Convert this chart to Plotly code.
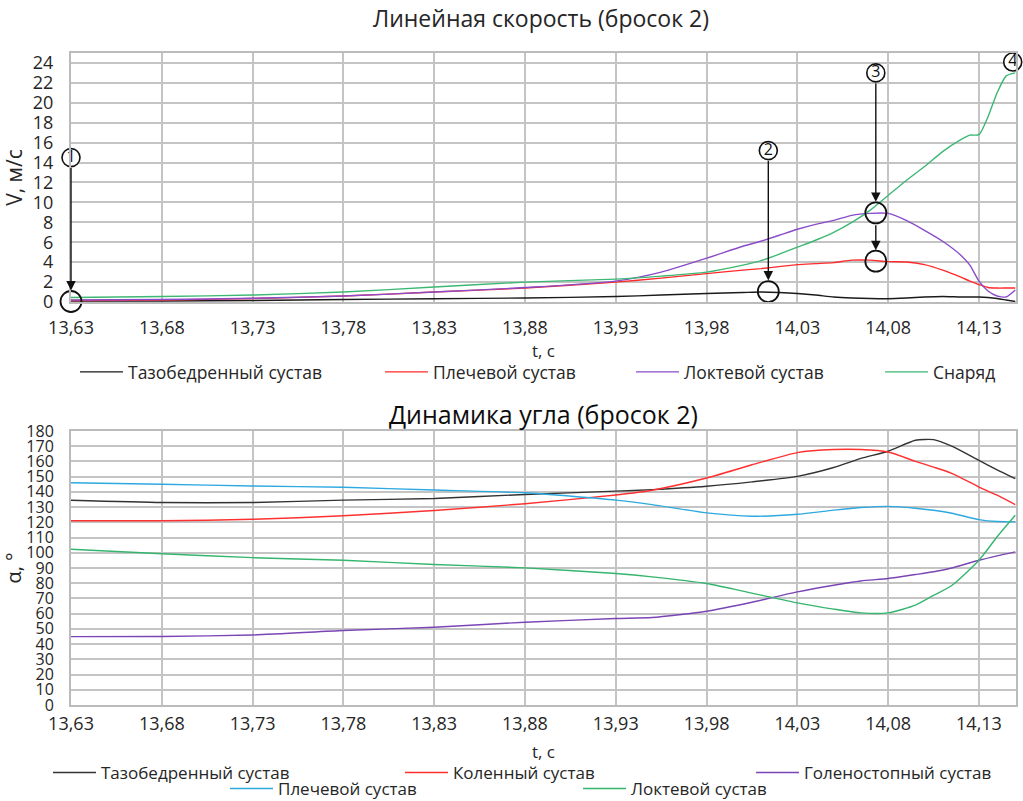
import plotly.graph_objects as go

# ---------------- data: linear velocity (throw 2) ----------------
t_speed = [13.63, 13.68, 13.73, 13.78, 13.83, 13.88, 13.93, 13.955, 13.98, 14.00,
           14.01, 14.02, 14.03, 14.04, 14.05, 14.06, 14.07, 14.08, 14.09, 14.10,
           14.11, 14.12, 14.125, 14.13, 14.135, 14.14, 14.145, 14.15]
v_hip = [0.1, 0.1, 0.15, 0.25, 0.33, 0.4, 0.55, 0.7, 0.85, 0.95,
         1.0, 0.95, 0.85, 0.7, 0.5, 0.4, 0.35, 0.33, 0.4, 0.5,
         0.55, 0.5, 0.5, 0.5, 0.45, 0.35, 0.2, 0.05]
v_shoulder = [0.15, 0.2, 0.35, 0.6, 1.0, 1.4, 2.0, 2.4, 2.85, 3.2,
              3.35, 3.55, 3.75, 3.85, 3.95, 4.2, 4.2, 4.05, 4.02, 3.75,
              3.2, 2.5, 2.1, 1.75, 1.45, 1.4, 1.4, 1.4]
v_elbow = [0.2, 0.25, 0.38, 0.6, 1.0, 1.45, 2.1, 3.0, 4.4, 5.6,
           6.1, 6.7, 7.3, 7.8, 8.2, 8.7, 8.9, 8.9, 8.2, 7.2,
           6.1, 4.7, 3.7, 2.1, 1.1, 0.6, 0.5, 1.2]
v_implement = [0.45, 0.55, 0.7, 1.0, 1.5, 2.0, 2.3, 2.6, 3.0, 3.7,
               4.15, 4.8, 5.5, 6.2, 7.0, 8.0, 9.2, 10.7, 12.2, 13.6,
               15.1, 16.3, 16.75, 16.8, 18.6, 21.0, 22.7, 23.0]

speed_names = ["Тазобедренный сустав", "Плечевой сустав", "Локтевой сустав", "Снаряд"]

# marked moments on the velocity chart
mark_t = [13.63, 14.014, 14.0732, 14.0732]
mark_v = [0.05, 1.05, 8.95, 4.1]
label_t = [13.63, 14.014, 14.0732, 14.1486]
label_v = [14.5, 15.2, 23.0, 24.1]
label_text = ["1", "2", "3", "4"]

# ---------------- data: angle dynamics (throw 2) ----------------
t_angle = [13.63, 13.68, 13.73, 13.78, 13.83, 13.88, 13.93, 13.95, 13.98, 14.005,
           14.03, 14.05, 14.065, 14.08, 14.095, 14.105, 14.115, 14.13, 14.14, 14.15]
a_hip = [134.5, 133, 133, 134.6, 135.7, 138.3, 140.5, 141.5, 143.7, 146.6,
         150.2, 156, 162, 166.7, 173.9, 174.3, 170, 160.7, 154.5, 148.7]
a_knee = [121, 121, 122, 124.3, 127.8, 132.2, 138, 141.1, 149.1, 157.8,
          165.8, 167.8, 167.8, 166.2, 160.1, 156.3, 152.2, 143.2, 137.8, 131.6]
a_ankle = [44.9, 45, 46, 48.9, 51.1, 54.4, 56.8, 57.5, 61.6, 67.5,
           74.3, 78.7, 81.5, 83.1, 85.7, 87.5, 90, 95.1, 98, 100.6]
a_shoulder = [146, 145, 143.9, 143, 141.2, 139.4, 134.6, 131.6, 126.2, 124,
              125.3, 128, 129.7, 130.5, 129.3, 127.9, 126, 121.8, 120.5, 120.3]
a_elbow = [102.3, 99.4, 96.8, 95.1, 92.3, 90.1, 86.4, 84.2, 79.8, 73.5,
           67.1, 63, 60.5, 60.5, 65.6, 72, 78.5, 95.1, 110.5, 124.6]

angle_names = ["Тазобедренный сустав", "Коленный сустав", "Голеностопный сустав",
               "Плечевой сустав", "Локтевой сустав"]

x_tick_vals = [13.63, 13.68, 13.73, 13.78, 13.83, 13.88, 13.93, 13.98, 14.03, 14.08, 14.13]
x_tick_text = ["13,63", "13,68", "13,73", "13,78", "13,83", "13,88", "13,93",
               "13,98", "14,03", "14,08", "14,13"]
v_tick_vals = [0, 2, 4, 6, 8, 10, 12, 14, 16, 18, 20, 22, 24]
a_tick_vals = [0, 10, 20, 30, 40, 50, 60, 70, 80, 90, 100, 110, 120, 130, 140, 150, 160, 170, 180]

# ---------------- figure ----------------
W, H = 1023, 801
FONT = "Open Sans, Liberation Sans, Arial, sans-serif"
TXT = "#262626"

speed_colors = ["#1a1a1a", "#FF2A2A", "#8A4CC8", "#3DB873"]
angle_colors = ["#333333", "#FF3030", "#7A45B5", "#2EA9E0", "#35B56E"]

fig = go.Figure()

speed_series = [v_hip, v_shoulder, v_elbow, v_implement]
speed_legends = ["legend", "legend2", "legend3", "legend4"]
for name, vals, col, lg in zip(speed_names, speed_series, speed_colors, speed_legends):
    fig.add_trace(go.Scatter(x=t_speed, y=vals, name=name, mode="lines",
                             line=dict(color=col, width=1.4, shape="spline", smoothing=0.6),
                             xaxis="x", yaxis="y", legend=lg))

angle_series = [a_hip, a_knee, a_ankle, a_shoulder, a_elbow]
angle_legends = ["legend5", "legend6", "legend7", "legend8", "legend9"]
for name, vals, col, lg in zip(angle_names, angle_series, angle_colors, angle_legends):
    fig.add_trace(go.Scatter(x=t_angle, y=vals, name=name, mode="lines",
                             line=dict(color=col, width=1.4, shape="spline", smoothing=0.6),
                             xaxis="x2", yaxis="y2", legend=lg))

# marked points (open circles) and numbered labels
fig.add_trace(go.Scatter(x=mark_t, y=mark_v, mode="markers", showlegend=False,
                         marker=dict(symbol="circle-open", size=21, color="#111111",
                                     line=dict(width=1.8, color="#111111")),
                         cliponaxis=False, xaxis="x", yaxis="y", hoverinfo="skip"))
fig.add_trace(go.Scatter(x=label_t, y=label_v, mode="markers+text", showlegend=False,
                         text=label_text, textposition="middle center",
                         textfont=dict(size=16, color="#111111", family=FONT),
                         marker=dict(symbol="circle", size=18, color="white",
                                     line=dict(width=1.6, color="#111111")),
                         cliponaxis=False, xaxis="x", yaxis="y", hoverinfo="skip"))

# arrows: label -> marked point, and upper mark of 3 -> lower mark of 3
arrows = [(label_t[0], label_v[0], mark_t[0], mark_v[0]),
          (label_t[1], label_v[1], mark_t[1], mark_v[1]),
          (label_t[2], label_v[2], mark_t[2], mark_v[2]),
          (mark_t[2], mark_v[2], mark_t[3], mark_v[3])]
starts = [9, 9, 9, 11]
for (x0, y0, x1, y1), st in zip(arrows, starts):
    fig.add_annotation(x=x1, y=y1, ax=x0, ay=y0, xref="x", yref="y", axref="x", ayref="y",
                       text="", showarrow=True, arrowhead=2, arrowsize=1.35, arrowwidth=1.4,
                       arrowcolor="#111111", standoff=11, startstandoff=st)

axis_common = dict(showgrid=True, gridcolor="#C4C4C4", gridwidth=2, showline=True,
                   linecolor="#BBBBBB", linewidth=2, mirror=True, zeroline=False,
                   automargin=False, ticks="", tickfont=dict(size=18, color=TXT, family=FONT))

x_dom = [71 / W, 1016 / W]
fig.update_layout(
    width=W, height=H, margin=dict(l=0, r=0, t=0, b=0, autoexpand=False),
    paper_bgcolor="white", plot_bgcolor="white",
    font=dict(family=FONT, size=16, color=TXT),
    title=dict(text="Линейная скорость (бросок 2)", x=541 / W, xanchor="center",
               y=1 - 19 / H, yanchor="middle", font=dict(size=23, color=TXT),
               automargin=False),
    xaxis=dict(axis_common, domain=x_dom, anchor="y", range=[13.63, 14.1504],
               tickvals=x_tick_vals, ticktext=x_tick_text, ticklabelstandoff=8,
               title=dict(text="t, с", standoff=0, font=dict(size=17))),
    yaxis=dict(axis_common, domain=[1 - 302 / H, 1 - 53 / H], anchor="x", range=[0, 25],
               tickvals=v_tick_vals, ticklabelstandoff=12,
               title=dict(text="V, м/с", standoff=4, font=dict(size=21))),
    xaxis2=dict(axis_common, domain=x_dom, anchor="y2", range=[13.63, 14.1504],
                tickvals=x_tick_vals, ticktext=x_tick_text, ticklabelstandoff=1,
                title=dict(text="t, с", standoff=13, font=dict(size=17))),
    yaxis2=dict(axis_common, domain=[1 - 705 / H, 1 - 431 / H], anchor="x2", range=[0, 180],
                tickvals=a_tick_vals, ticklabelstandoff=12,
                tickfont=dict(size=16, color=TXT, family=FONT),
                title=dict(text="α, °", standoff=3, font=dict(size=20))),
    annotations=list(fig.layout.annotations) + [
        dict(text="Динамика угла (бросок 2)", xref="paper", yref="paper",
             x=543 / W, y=1 - 414 / H, xanchor="center", yanchor="middle",
             showarrow=False,
             font=dict(size=25, color="#0d0d0d", family=FONT))
    ],
)


def legend_at(xpx, ypx, size):
    return dict(x=xpx / W, y=1 - ypx / H, xanchor="left", yanchor="middle",
                orientation="h", bgcolor="rgba(0,0,0,0)", borderwidth=0,
                itemwidth=43, font=dict(size=size, color=TXT, family=FONT))


legend_pos = {
    "legend": (75, 372, 17.5), "legend2": (380, 372, 17.5),
    "legend3": (631, 372, 17.5), "legend4": (880, 372, 17.5),
    "legend5": (48, 773, 17), "legend6": (400, 773, 17), "legend7": (751, 773, 17),
    "legend8": (225, 789, 17), "legend9": (578, 789, 17),
}
fig.update_layout(**{k: legend_at(*v) for k, v in legend_pos.items()})

fig.write_html("out.html", config={"displayModeBar": False},
               post_script="document.body.style.margin='0px';")
